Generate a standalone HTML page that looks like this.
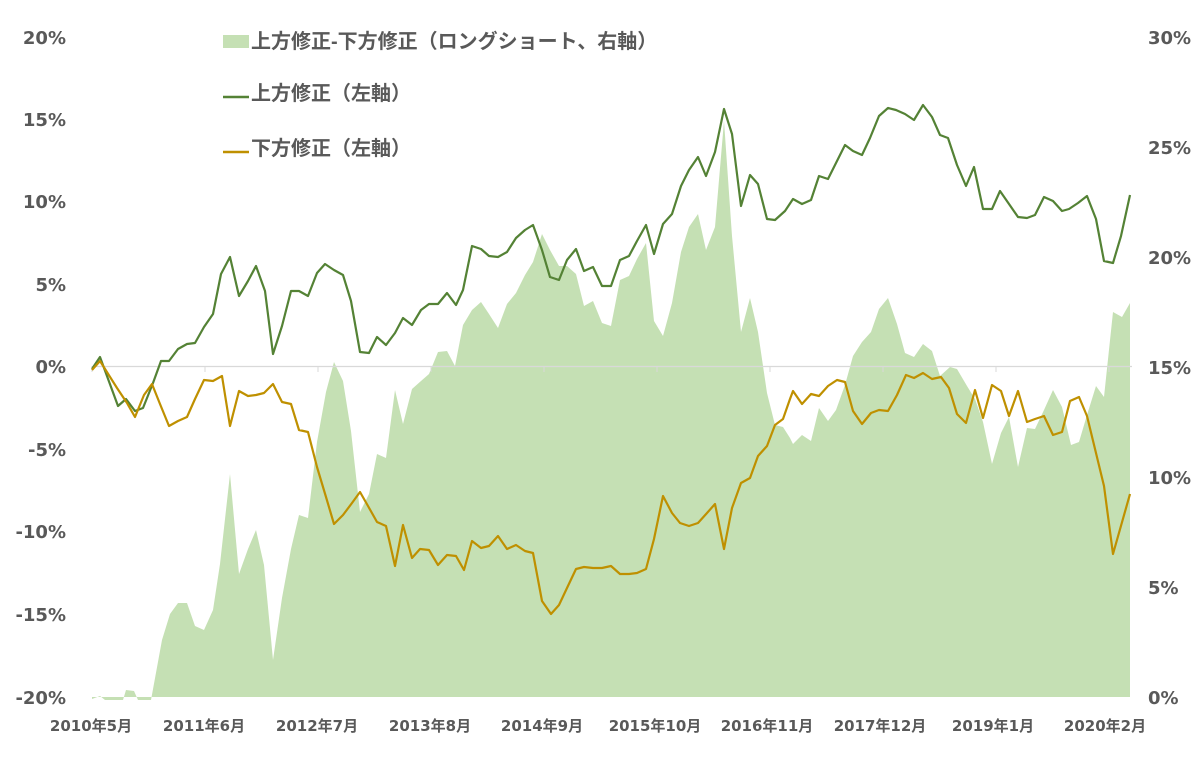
<!DOCTYPE html>
<html><head><meta charset="utf-8"><style>
body{margin:0;background:#fff;}
svg{display:block;}
.ax{font-family:"DejaVu Sans","Liberation Sans",sans-serif;font-weight:bold;font-size:18px;fill:#595959;}
.xl{font-family:"DejaVu Sans","Noto Sans CJK JP",sans-serif;font-weight:bold;font-size:15px;fill:#595959;}
.lg{font-family:"Liberation Sans","Noto Sans CJK JP",sans-serif;font-weight:bold;font-size:20px;fill:#595959;}
</style></head><body>
<svg width="1194" height="781" viewBox="0 0 1194 781" xmlns="http://www.w3.org/2000/svg">
<polygon fill="#c5e0b4" points="92,697 92,699 100,696 105,700 123,700 126,690 134,691 138,700 151,700 162,640 170,614 178,603 187,603 195,626 204,630 213,610 220,564 230,474 239,574 248,549 256,530 264,565 273,660 282,598 291,549 299,515 308,518 317,442 326,392 334,362 343,381 351,431 360,512 369,494 377,454 386,458 395,390 403,424 412,389 421,381 429,374 438,352 447,351 455,366 463,325 472,310 481,302 489,314 498,328 507,304 516,293 525,275 533,262 542,234 550,250 559,266 567,266 576,274 584,306 593,301 602,323 611,326 620,280 629,276 637,259 646,243 654,321 663,336 672,303 681,252 689,227 698,214 706,250 715,227 724,121 732,236 741,332 750,298 758,332 767,393 775,425 783,427 790,438 793,444 802,435 811,441 819,408 828,421 836,410 845,385 853,356 862,342 871,332 879,309 888,298 897,324 905,353 914,357 923,344 932,351 940,376 950,367 957,369 967,386 975,399 983,422 992,464 1001,433 1009,417 1018,467 1027,428 1035,429 1044,410 1053,390 1062,407 1071,445 1079,442 1087,415 1096,386 1104,397 1113,312 1122,317 1130,303 1130,697"/>
<line x1="92" y1="366.5" x2="1132" y2="366.5" stroke="#d9d9d9" stroke-width="1.2"/>
<g stroke="#d9d9d9" stroke-width="1">
<line x1="92" y1="366" x2="92" y2="372"/><line x1="205" y1="366" x2="205" y2="372"/><line x1="318" y1="366" x2="318" y2="372"/><line x1="431" y1="366" x2="431" y2="372"/><line x1="544" y1="366" x2="544" y2="372"/><line x1="657" y1="366" x2="657" y2="372"/><line x1="770" y1="366" x2="770" y2="372"/><line x1="883" y1="366" x2="883" y2="372"/><line x1="996" y1="366" x2="996" y2="372"/><line x1="1109" y1="366" x2="1109" y2="372"/>
</g>
<polyline fill="none" stroke="#548235" stroke-width="2.2" stroke-linejoin="round" points="92,369 100,357 118,406 126,399 135,411 143,408 153,383 161,361 169,361 178,349 187,344 195,343 204,327 213,314 221,274 230,257 239,296 248,281 256,266 265,291 273,354 282,326 291,291 299,291 308,296 317,273 325,264 334,270 343,275 351,301 360,352 369,353 377,337 386,345 395,333 403,318 412,325 421,310 429,304 438,304 447,293 456,305 463,290 472,246 481,249 489,256 498,257 507,252 516,238 525,230 533,225 542,250 550,277 559,280 567,260 576,249 584,271 593,267 602,286 611,286 620,260 629,256 637,241 646,225 654,254 663,224 672,214 681,186 689,170 698,157 706,176 715,152 724,109 732,134 741,206 750,175 758,184 767,219 775,220 785,211 793,199 802,204 811,200 819,176 828,179 836,163 845,145 853,151 862,155 870,138 879,116 888,108 896,110 905,114 914,120 923,105 932,117 940,135 948,138 957,165 966,186 974,167 983,209 992,209 1000,191 1009,204 1018,217 1027,218 1035,215 1044,197 1053,201 1062,211 1069,209 1078,203 1087,196 1096,219 1104,261 1113,263 1121,236 1130,195"/>
<polyline fill="none" stroke="#bf9000" stroke-width="2.2" stroke-linejoin="round" points="92,370 100,361 117,388 127,403 135,417 144,395 152,384 160,404 169,426 178,421 187,417 195,399 204,380 213,381 222,376 230,426 239,391 248,396 256,395 264,393 273,384 282,402 291,404 299,430 308,432 317,467 326,497 334,524 343,515 352,503 360,492 368,506 377,522 386,526 395,566 403,525 412,558 420,549 429,550 438,565 447,555 456,556 464,570 472,541 481,548 489,546 498,536 507,549 516,545 525,551 533,553 542,601 551,614 559,605 567,588 576,569 584,567 593,568 602,568 611,566 620,574 629,574 637,573 646,569 654,539 663,496 672,513 680,523 689,526 698,523 707,513 715,504 724,549 732,508 741,483 750,478 758,456 767,446 775,425 783,419 790,399 793,391 802,404 811,394 819,396 828,386 837,380 845,382 853,411 862,424 871,413 879,410 888,411 897,395 906,375 914,378 923,373 932,379 941,377 949,388 957,414 966,423 975,390 983,418 992,385 1001,391 1009,416 1018,391 1027,422 1035,419 1044,416 1053,435 1062,432 1070,401 1079,397 1087,416 1104,486 1113,554 1130,494"/>
<g class="ax" text-anchor="end">
<text x="66" y="44">20%</text><text x="66" y="126">15%</text><text x="66" y="208">10%</text><text x="66" y="291">5%</text><text x="66" y="373">0%</text><text x="66" y="456">-5%</text><text x="66" y="538">-10%</text><text x="66" y="621">-15%</text><text x="66" y="704">-20%</text>
</g>
<g class="ax">
<text x="1148" y="44">30%</text><text x="1148" y="154">25%</text><text x="1148" y="264">20%</text><text x="1148" y="374">15%</text><text x="1148" y="484">10%</text><text x="1148" y="594">5%</text><text x="1148" y="704">0%</text>
</g>
<g class="xl" text-anchor="middle">
<text x="91" y="731">2010年5月</text><text x="204" y="731">2011年6月</text><text x="317" y="731">2012年7月</text><text x="430" y="731">2013年8月</text><text x="542" y="731">2014年9月</text><text x="655" y="731">2015年10月</text><text x="767" y="731">2016年11月</text><text x="880" y="731">2017年12月</text><text x="993" y="731">2019年1月</text><text x="1105" y="731">2020年2月</text>
</g>
<rect x="223" y="35" width="26" height="13" fill="#c5e0b4"/>
<text class="lg" x="251" y="48">上方修正-下方修正（ロングショート、右軸）</text>
<line x1="223" y1="97" x2="249" y2="97" stroke="#548235" stroke-width="2.5"/>
<text class="lg" x="251" y="100">上方修正（左軸）</text>
<line x1="223" y1="152" x2="249" y2="152" stroke="#bf9000" stroke-width="2.5"/>
<text class="lg" x="251" y="155">下方修正（左軸）</text>
</svg>
</body></html>
